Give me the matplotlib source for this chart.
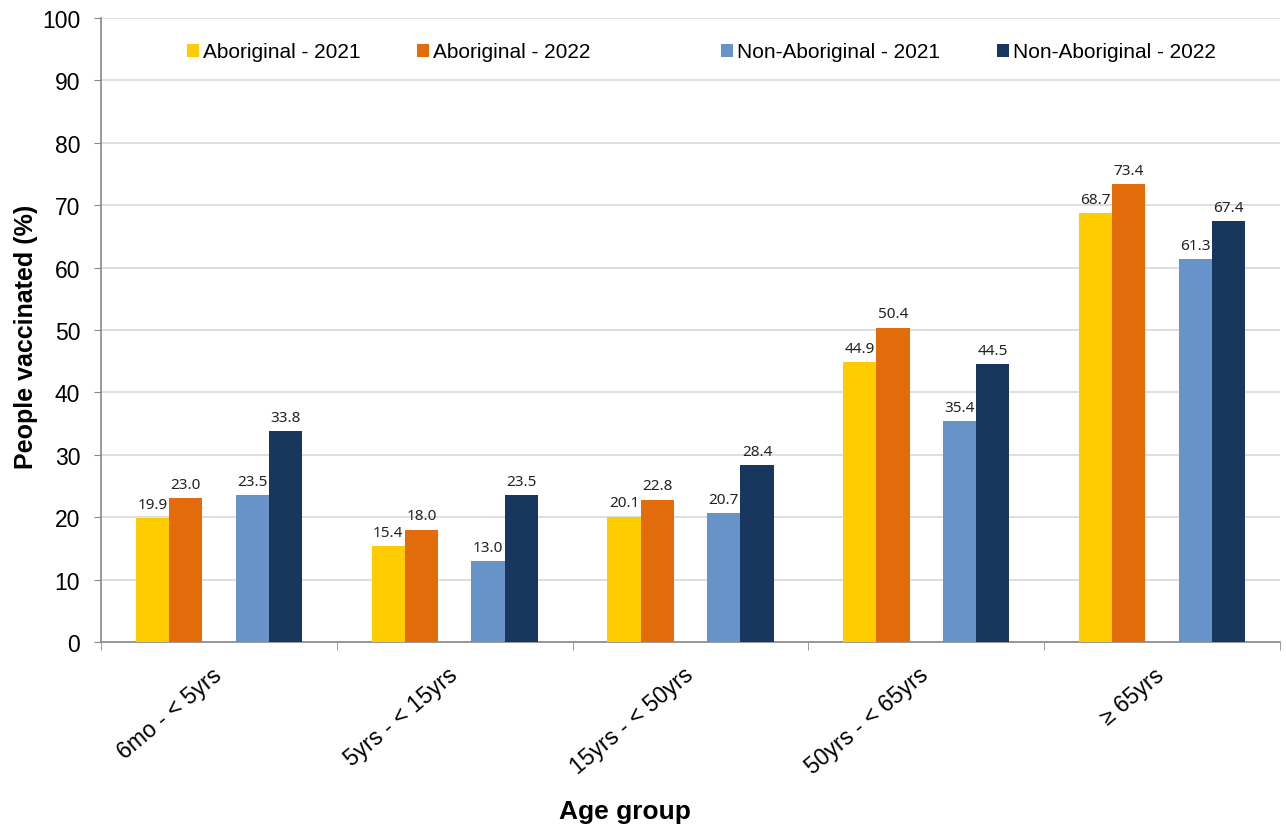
import matplotlib.pyplot as plt
import matplotlib.transforms as mtransforms
import numpy as np

plt.rcParams["font.family"] = ["Liberation Sans", "DejaVu Sans"]

age_groups = ["6mo - < 5yrs", "5yrs - < 15yrs", "15yrs - < 50yrs",
              "50yrs - < 65yrs", "\u2265 65yrs"]
series_names = ["Aboriginal - 2021", "Aboriginal - 2022",
                "Non-Aboriginal - 2021", "Non-Aboriginal - 2022"]
aboriginal_2021 = [19.9, 15.4, 20.1, 44.9, 68.7]
aboriginal_2022 = [23.0, 18.0, 22.8, 50.4, 73.4]
non_aboriginal_2021 = [23.5, 13.0, 20.7, 35.4, 61.3]
non_aboriginal_2022 = [33.8, 23.5, 28.4, 44.5, 67.4]

colors = ["#FFCC00", "#E36C0A", "#6793C8", "#17375E"]
offsets = [-2, -1, 1, 2]
bw = 0.141
# legend entry left edges (figure pixels), spaced unevenly like the original
legend_x = [187, 417, 721, 997]

W, H = 1286, 828
fig = plt.figure(figsize=(W / 100, H / 100), dpi=100)
ax = fig.add_axes([101 / W, 1 - 643 / H, (1280 - 101) / W, (643 - 19) / H])

x = np.arange(len(age_groups))
all_series = [aboriginal_2021, aboriginal_2022, non_aboriginal_2021, non_aboriginal_2022]
handles = []
for vals, name, col, k in zip(all_series, series_names, colors, offsets):
    bars = ax.bar(x + k * bw, vals, width=bw, color=col, label=name, zorder=3)
    handles.append(bars)
    for b, v in zip(bars, vals):
        ax.text(b.get_x() + b.get_width() / 2, v + 1.0, f"{v:.1f}",
                ha="center", va="bottom", fontsize=11, color="#222222",
                family=["Noto Sans", "DejaVu Sans"], zorder=4)

ax.set_xlim(-0.5, len(age_groups) - 0.5)
ax.set_ylim(0, 100)
ax.set_yticks(range(0, 101, 10))
ax.tick_params(axis="y", labelsize=16.5, length=5, color="#888888", pad=10)
ax.grid(axis="y", color="#d9d9d9", linewidth=1.2, zorder=0)

ax.set_xticks(x)
ax.set_xticklabels(age_groups, rotation=40, ha="right", rotation_mode="anchor", fontsize=16.5)
ax.tick_params(axis="x", length=0, pad=15)
ax.set_xticks(np.arange(-0.5, len(age_groups)), minor=True)
ax.tick_params(axis="x", which="minor", length=6, color="#888888")
shift = mtransforms.ScaledTranslation(-8 / 100, 0, fig.dpi_scale_trans)
for lab in ax.get_xticklabels():
    lab.set_transform(lab.get_transform() + shift)

for s in ["top", "right"]:
    ax.spines[s].set_visible(False)
for s in ["left", "bottom"]:
    ax.spines[s].set_color("#888888")
    ax.spines[s].set_linewidth(1.2)

ax.set_ylabel("People vaccinated (%)", fontsize=18, fontweight="bold")
ax.yaxis.set_label_coords((38 - 101) / (1280 - 101), (643 - 337) / (643 - 19))
ax.set_xlabel("Age group", fontsize=19, fontweight="bold")
ax.xaxis.set_label_coords((625 - 101) / (1280 - 101), -(812 - 643) / (643 - 19))
ax.xaxis.label.set_va("center")

for h, name, lx in zip(handles, series_names, legend_x):
    fig.legend([h], [name], loc="center left", bbox_to_anchor=(lx / W, 1 - 53 / H),
               frameon=False, fontsize=15, handlelength=0.58, handleheight=0.58,
               handletextpad=0.18, borderpad=0, borderaxespad=0)

fig.savefig("out.png", dpi=100)
